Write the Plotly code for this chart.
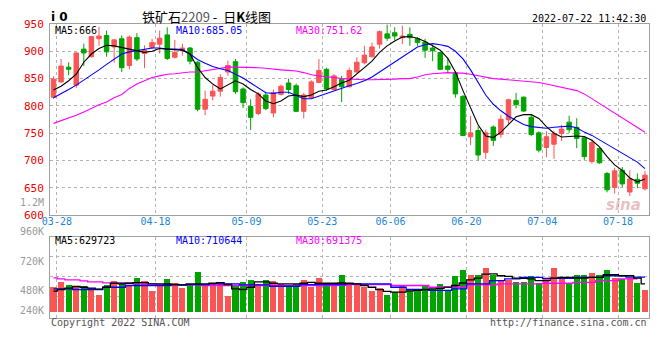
import plotly.graph_objects as go

# ---------------- data ----------------
dates = ["03-28","03-29","03-30","03-31","04-01","04-06","04-07","04-08","04-11","04-12",
         "04-13","04-14","04-15","04-18","04-19","04-20","04-21","04-22","04-25","04-26",
         "04-27","04-28","04-29","05-05","05-06","05-09","05-10","05-11","05-12","05-13",
         "05-16","05-17","05-18","05-19","05-20","05-23","05-24","05-25","05-26","05-27",
         "05-30","05-31","06-01","06-02","06-06","06-07","06-08","06-09","06-10","06-13",
         "06-14","06-15","06-16","06-17","06-20","06-21","06-22","06-23","06-24","06-27",
         "06-28","06-29","06-30","07-01","07-04","07-05","07-06","07-07","07-08","07-11",
         "07-12","07-13","07-14","07-15","07-18","07-19","07-20","07-21","07-22"]

open_ = [816,844,871,838,904,890,923,929,908,923,874,925,896,907,913,930,889,901,906,880,
         794,818,827,862,881,831,799,786,820,787,821,842,837,790,815,843,867,830,849,
         835,862,879,890,913,932,934,925,931,923,917,906,898,873,860.7,817.3,743.5,754.8,714.9,761.3,
         747.6,774.4,810.1,816,779.2,750.6,723.8,729.8,749.4,770.2,760.7,741.7,698.2,722,676.2,650.6,682.1,642.3,665.5,648.2]
high  = [854,886,880,898,914,927,945,938,921,929,929,933,911,923,938,944,921,914,908,882,
         828,838,858,883,886,834,812,825,826,830,839,850,841,824,847,886,870,858,855,
         870,889,910,916,938,949,944,947,944,926,923,910,898,888,863.7,820.2,781.5,762.5,756.5,764.3,
         783.3,813,823.8,817.3,783.3,753.6,753.6,753.6,765.5,782.1,777.4,742.9,738.7,723.8,679.2,686.9,688,682.1,676.2,680.9]
low   = [813,842,856,833,873,889,910,890,879,862,867,882,869,904,896,884,887,892,876,790,
         783,810,817,855,822,796,756,783,792,779,819,822,789,777,813,842,828,828,807,
         834,861,876,889,905,919,920,913,910,910,888,882,866,861,814.9,744.6,728,700,703,726.8,
         741.7,765.5,795.2,789.3,744.6,714.9,706,703,735.7,750.6,722.6,701.2,694,694,641.7,639.3,651.2,635,649.4,645.2]
close = [849,873,867,897,897,927,928,899,921,870,926,886,902,916,924,887,898,906,882,794,
         812,827,852,874,826,806,779,822,795,824,836,830,790,820,844,865,831,855,835,
         865,880,893,908,936,924,928,928,925,916,902,901,867,867,822,745.8,750.6,710,750.6,736.9,
         775.6,811.3,802.4,790.5,747.6,719,743.5,749.4,757.7,756.5,740.5,707.1,732.7,695.8,646.4,681,657.1,666.1,658.3,673.2]

ma5  = [829,836,846,858,880,895,905,911,910,907,905,901,898,900,905,904,903,902,895,870,
        852,840,831,838,846,840,830,822,809,804,809,818,820,817,820,827,829,835,842,
        847,858,870,882,898,910,919,926,927,924,918,910,902,887,862,828,795,765,745,742,
        752,767,780,784,784,777,762,750,743,744,745,744,737,725,707,692,682,668,661,666]
ma10 = [815,822,830,838,847,856,866,876,886,895,899,901,903,906,906,904,904,903,895,885,
        878,872,868,865,858,851,842,833,824,823,825,825,819,813,813,818,823,828,832,
        837,841,846,853,862,872,880,890,899,908,912,914,912,909,900,886,866,843,820,803,
        791,781,773,766,762,760,759,761,762,763,760,752,746,738,729,722,714,706,697,685.05]
ma30 = [768,773,777,783,789,796,802,807,815,821,832,840,846,852,855,858,859,861,862,862,
        864,867,869,871,871,871,871,870,869,867,866,865,864,861,857,855,854,852,850,
        849,848,848,848,848,848,849,850,850,853,857,859,860,861,860,860,858,855,853,850,
        849,848,847,846,845,843,840,837,834,831,828,822,813,804,795,786,778,769,760,751.62]

volume_k = [602,657,621,610,613,582,503,621,669,657,610,705,669,550,617,693,641,578,621,776,
            629,629,641,491,621,657,681,637,681,669,637,617,629,681,598,705,629,629,740,
            641,629,602,542,582,503,530,610,542,542,610,570,637,562,728,800,740,740,823,740,
            681,681,661,661,728,649,708,823,708,637,740,740,764,740,800,701,689,708,649,562]
vol_ma5_k = [542,562,578,598,589,578,566,589,637,630,637,645,645,630,630,628,622,615,630,630,
             630,637,645,622,570,562,589,653,653,637,630,630,630,637,649,637,637,637,640,
             637,630,610,589,560,540,530,530,545,550,560,570,575,590,610,640,677,700,748,750,
             728,720,700,696,690,669,669,700,708,708,700,700,708,708,740,740,728,728,700,629.723]
vol_ma10_k = [570,570,570,562,562,562,562,589,589,589,610,610,610,610,610,610,621,621,621,621,
              621,630,630,630,630,618,618,618,618,601,601,601,601,621,621,621,621,621,621,
              630,630,630,630,630,630,589,589,562,562,562,550,550,550,570,570,630,630,630,669,
              669,689,689,708,708,708,696,696,696,696,708,708,708,708,728,728,728,711,711,710.644]
vol_ma30_k = [701,689,677,677,665,653,653,642,642,642,642,630,630,630,618,618,618,618,618,618,
              610,610,610,610,610,610,610,610,610,610,610,610,610,610,610,610,610,610,612,
              621,621,621,621,621,621,610,610,610,610,610,589,589,589,589,589,618,618,618,618,
              630,630,630,630,630,630,637,637,637,637,649,649,649,669,669,669,691,691,691.375]

tick_dates = ["03-28","04-18","05-09","05-23","06-06","06-20","07-04","07-18"]
price_ticks = [600,650,700,750,800,850,900,950]
vol_grid_k = [480,720,960]
vol_label_text = ["1.2M","960K","720K","480K","240K"]
vol_label_py = [200,230,260,290,310]

# ---------------- styles / helpers ----------------
RED = "#fa5555"
GREEN = "#00a400"
OFF = 8                      # default page margin of the html body
W, H = 660 - OFF, 360 - OFF
ML, MR, MT, MB = 50 - OFF, 10, 18 - OFF, 42
X0, X1, Y0, Y1 = 50, 650, 18, 318   # plot area in page pixels

def px(x):
    return (x - X0) / (X1 - X0)

def py(y):
    return (Y1 - y) / (Y1 - Y0)

n = len(dates)
xs = list(range(n))
volume = [v * 1000 for v in volume_k]
vcolors = [RED if c >= o else GREEN for o, c in zip(open_, close)]
VOL_BASE = 300000

fig = go.Figure()

fig.add_trace(go.Candlestick(
    x=xs, open=open_, high=high, low=low, close=close,
    increasing=dict(line=dict(color=RED, width=1), fillcolor=RED),
    decreasing=dict(line=dict(color=GREEN, width=1), fillcolor=GREEN),
    whiskerwidth=0, xaxis="x", yaxis="y", showlegend=False, hoverinfo="skip"))

for arr, col in [(ma30, "#ff00ff"), (ma10, "#0000ff"), (ma5, "#000000")]:
    fig.add_trace(go.Scatter(x=xs, y=arr, mode="lines", line=dict(color=col, width=1.1),
                             xaxis="x", yaxis="y", showlegend=False, hoverinfo="skip"))

fig.add_trace(go.Bar(x=xs, y=[v - VOL_BASE for v in volume], base=VOL_BASE,
                     marker=dict(color=vcolors, line=dict(width=0)), width=0.8,
                     xaxis="x2", yaxis="y2", showlegend=False, hoverinfo="skip"))
for arr, col in [(vol_ma30_k, "#ff00ff"), (vol_ma10_k, "#0000ff"), (vol_ma5_k, "#000000")]:
    fig.add_trace(go.Scatter(x=xs, y=[v * 1000 for v in arr], mode="lines",
                             line=dict(color=col, width=1.3, shape="hvh"),
                             xaxis="x2", yaxis="y2", showlegend=False, hoverinfo="skip"))

xr = [-0.46, n - 1 + 0.53]
tickpos = [dates.index(d) + 0.45 for d in tick_dates]
GRID = "#b4b4b4"
AX = "#a0a0a0"
mono = "DejaVu Sans Mono"

fig.update_layout(
    width=W, height=H, margin=dict(l=ML, r=MR, t=MT, b=MB),
    paper_bgcolor="white", plot_bgcolor="white",
    bargap=0, boxgap=0.16,
    xaxis=dict(domain=[0, 1], range=xr, anchor="y", tickvals=tickpos, ticktext=tick_dates,
               showgrid=True, gridcolor=GRID, griddash="dot", gridwidth=1,
               tickfont=dict(family=mono, size=10, color="#1a86d8"), ticks="",
               ticklabelstandoff=-3,
               showline=True, linecolor=AX, linewidth=1, mirror=True, zeroline=False,
               rangeslider=dict(visible=False), fixedrange=True),
    yaxis=dict(domain=[py(213), 1], range=[600, 950], tickvals=price_ticks,
               ticktext=[str(v) for v in price_ticks],
               showgrid=True, gridcolor=GRID, griddash="dot", gridwidth=1,
               tickfont=dict(family=mono, size=11, color="#ee0000"), ticks="",
               ticklabelstandoff=3,
               showline=True, linecolor=AX, linewidth=1, mirror=True, zeroline=False),
    xaxis2=dict(domain=[0, 1], range=xr, anchor="y2", matches="x", tickvals=tickpos,
                showticklabels=False, showgrid=True, gridcolor=GRID, griddash="dot",
                ticks="", showline=True, linecolor=AX, linewidth=1, mirror=True, zeroline=False),
    yaxis2=dict(domain=[0, py(235)], range=[217500, 1200000],
                tickvals=[v * 1000 for v in vol_grid_k], showticklabels=False,
                showgrid=True, gridcolor=GRID, griddash="dot", ticks="",
                showline=True, linecolor=AX, linewidth=1, mirror=True, zeroline=False),
)

ann = []
def text(x, y, s, color="#000", size=10, anchor="left", family=mono, **kw):
    ann.append(dict(x=px(x), y=py(y), xref="paper", yref="paper", text=s, showarrow=False,
                    xanchor=anchor, yanchor="middle", font=dict(family=family, size=size, color=color), **kw))

text(49, 11, "<b>i 0</b>", size=12, family="DejaVu Sans")
text(207, 10.5, "铁矿石<span style='color:#555'>2209</span> -  日<b>K</b>线图", size=13, anchor="center",
     family="Noto Sans CJK SC")
text(649, 12, "2022-07-22 11:42:30", size=10, anchor="right")
text(53, 24.5, "MA5:%d" % round(ma5[-1]), size=10)
text(174, 24.5, "MA10:%.2f" % ma10[-1], color="#0000ff", size=10)
text(294, 24.5, "MA30:%.2f" % ma30[-1], color="#ff00ff", size=10)
text(53, 238.5, "MA5:%d" % round(vol_ma5_k[-1] * 1000), size=10)
text(174, 238.5, "MA10:%d" % round(vol_ma10_k[-1] * 1000), color="#0000ff", size=10)
text(294, 238.5, "MA30:%d" % round(vol_ma30_k[-1] * 1000), color="#ff00ff", size=10)
for s, yy in zip(vol_label_text, vol_label_py):
    text(46, yy, s, color="#9a9a9a", size=10, anchor="right")
text(49, 323, "Copyright 2022 SINA.COM", color="#555", size=10)
text(650, 323, "http://finance.sina.com.cn", color="#555", size=10, anchor="right")
text(624, 203, "<b><i>sina</i></b>", color="rgba(215,140,140,0.55)", size=15, anchor="center",
     family="DejaVu Sans")
fig.update_layout(annotations=ann)

fig.write_html("out.html")
